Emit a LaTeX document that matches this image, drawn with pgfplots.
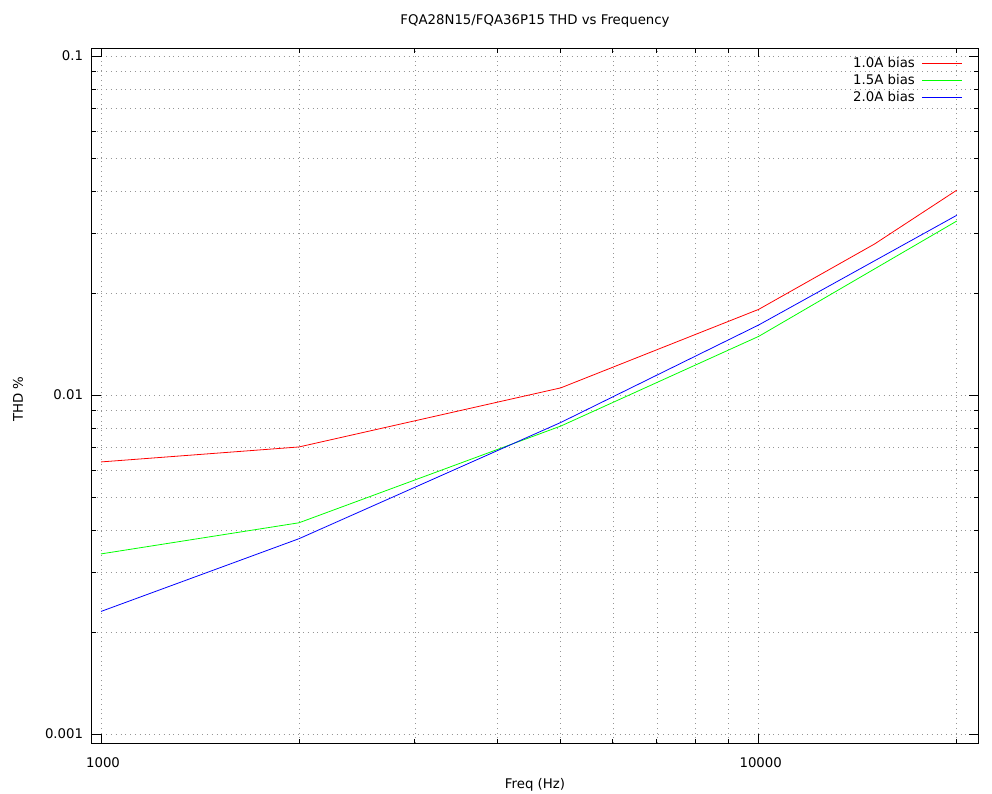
\documentclass[border=0pt]{standalone}
\usepackage{fontspec}
\setmainfont{DejaVu Sans}
\usepackage{pgfplots}
\pgfplotsset{compat=1.18}
\definecolor{gpred}{RGB}{255,0,0}
\definecolor{gpgreen}{RGB}{0,255,0}
\definecolor{gpblue}{RGB}{0,0,255}
\definecolor{gridgray}{RGB}{150,150,150}

\begin{document}
\fontsize{13.3}{16}\selectfont
\begin{tikzpicture}[x=1pt,y=1pt]
\path[use as bounding box] (0,0) rectangle (992,793);
\node at (535,772) {FQA28N15/FQA36P15 THD vs Frequency};
\node at (535,8) {Freq (Hz)};
\node[rotate=90] at (18,394) {THD \%};
\begin{axis}[
  at={(91.7pt,50pt)}, anchor=south west,
  scale only axis, width=886.3pt, height=694.7pt,
  xmode=log, ymode=log,
  xmin=968, xmax=21550, ymin=0.000941, ymax=0.1054,
  xtick={1000,10000}, xticklabels={1000,10000},
  ytick={0.001,0.01,0.1}, yticklabels={0.001,0.01,0.1},
  minor xtick={2000,3000,4000,5000,6000,7000,8000,9000,20000},
  minor ytick={0.002,0.003,0.004,0.005,0.006,0.007,0.008,0.009,
               0.02,0.03,0.04,0.05,0.06,0.07,0.08,0.09},
  grid=both,
  major grid style={gridgray, line width=0.6pt, dash pattern=on 0.8pt off 4pt},
  minor grid style={gridgray, line width=0.6pt, dash pattern=on 0.8pt off 4pt},
  major tick length=9pt, minor tick length=4.5pt,
  tick style={black, line width=0.8pt},
  axis line style={line width=1pt},
  tick label style={font=\fontsize{13.3}{16}\selectfont},
  /pgf/number format/assume math mode=true,
  xticklabel style={yshift=-10pt, xshift=2pt},
  yticklabel style={xshift=-4pt},
  legend style={at={(0.986,0.992)}, anchor=north east, draw=none, fill=none,
    font=\fontsize{13.3}{16}\selectfont, row sep=2pt,
    nodes={inner sep=1.5pt},
    /tikz/every odd column/.append style={column sep=5pt}},
  legend cell align=right,
  legend plot pos=right,
  legend image code/.code={\draw[#1, line width=1pt] (0pt,0.5pt) -- (40pt,0.5pt);},
]
\addplot[gpred, line width=0.8pt] coordinates {
  (1000,0.00635) (2000,0.00703) (5000,0.0105) (10000,0.0179) (15000,0.0279) (20000,0.0402)
};
\addlegendentry{1.0A bias}
\addplot[gpgreen, line width=0.8pt] coordinates {
  (1000,0.0034) (2000,0.0042) (5000,0.0081) (10000,0.0149) (20000,0.0326)
};
\addlegendentry{1.5A bias}
\addplot[gpblue, line width=0.8pt] coordinates {
  (1000,0.0023) (2000,0.00377) (5000,0.0083) (10000,0.0161) (20000,0.0339)
};
\addlegendentry{2.0A bias}
\end{axis}
\end{tikzpicture}
\end{document}
